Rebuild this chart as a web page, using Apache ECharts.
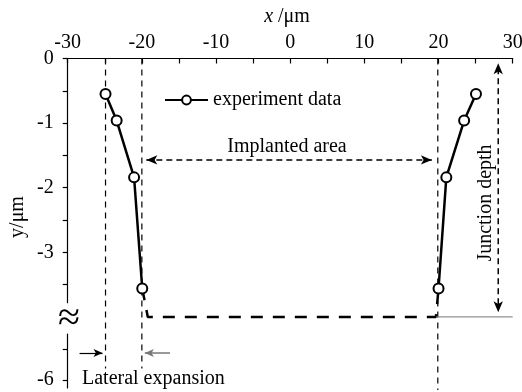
<!DOCTYPE html>
<html><head><meta charset="utf-8">
<script src="https://cdn.jsdelivr.net/npm/echarts@6/dist/echarts.min.js"></script>
<style>html,body{margin:0;padding:0;background:#fff}#c{width:522px;height:392px}</style>
</head><body><div id="c"></div>
<script>
// ---- data ----
const xTickLabels = [-30, -20, -10, 0, 10, 20, 30];
const yTicksUpper = [0, -0.5, -1, -1.5, -2, -2.5, -3, -3.5];
const yLabelsUpper = [0, -1, -2, -3];
const yTicksLower = [-6, -5.5];
const yLabelsLower = [-6];

const leftX = [-24.9, -23.4, -21.05, -19.95];
const leftY = [-0.55, -0.96, -1.84, -3.56];
const rightX = [20, 21.05, 23.45, 25.05];
const rightY = [-3.56, -1.84, -0.96, -0.55];

const bottomX = [-19.95, -19.2, 19.65, 20];
const bottomY = [-3.56, -4.0, -4.0, -3.56];
const baseX = [19.65, 30];
const baseY = [-4.0, -4.0];

const guideX = [-24.9, -20, 19.9];
const guideBottomY = [-4.8, -4.8, -5.13];

const implantX = [-19.4, 19.1];
const implantY = -1.57;
const junctionX = 28.05;
const junctionY = [-0.15, -3.85];
const lateralLeftX = [-28.4, -25.3];
const lateralRightX = [-16.2, -19.6];
const lateralY = -5.56;

const FONT = 'Liberation Serif';
const zip = (xs, ys) => xs.map((x, i) => [x, ys[i]]);

const chart = echarts.init(document.getElementById('c'));

const guideSeries = guideX.map((x, i) => ({
  type: 'line', xAxisIndex: 0, yAxisIndex: 0, silent: true, clip: false,
  symbol: 'none', data: [[x, 0], [x, guideBottomY[i]]],
  lineStyle: { color: '#000', width: 1.2, type: [6, 5] }, z: 1
}));

chart.setOption({
  animation: false,
  backgroundColor: '#fff',
  grid: [
    { left: 67.7, right: 9.3, top: 58.5, bottom: 89.3, containLabel: false, outerBoundsMode: 'none' },
    { left: 67.7, right: 9.3, top: 334, bottom: 4, containLabel: false, outerBoundsMode: 'none' }
  ],
  xAxis: [
    {
      gridIndex: 0, type: 'value', position: 'top', min: -30, max: 30, interval: 10,
      axisLine: { onZero: false, lineStyle: { color: '#000', width: 1.2 } },
      axisTick: { inside: true, length: 5, lineStyle: { color: '#000', width: 1.2 } },
      minorTick: { show: true, splitNumber: 2, length: 5, lineStyle: { color: '#000', width: 1.2 } },
      axisLabel: { fontSize: 20, fontFamily: FONT, color: '#000', margin: 6,
        customValues: xTickLabels },
      splitLine: { show: false }, minorSplitLine: { show: false }
    },
    { gridIndex: 1, type: 'value', min: -30, max: 30, show: false }
  ],
  yAxis: [
    {
      gridIndex: 0, type: 'value', min: -3.78, max: 0,
      axisLine: { show: true, onZero: false, lineStyle: { color: '#000', width: 1.2 } },
      axisTick: { show: true, length: 5, customValues: yTicksUpper, lineStyle: { color: '#000', width: 1.2 } },
      axisLabel: { fontSize: 20, fontFamily: FONT, color: '#000', margin: 14, customValues: yLabelsUpper },
      splitLine: { show: false }
    },
    {
      gridIndex: 1, type: 'value', min: -6.13, max: -5.25,
      axisLine: { show: true, onZero: false, lineStyle: { color: '#000', width: 1.2 } },
      axisTick: { show: true, length: 5, customValues: yTicksLower, lineStyle: { color: '#000', width: 1.2 } },
      axisLabel: { fontSize: 20, fontFamily: FONT, color: '#000', margin: 14, customValues: yLabelsLower },
      splitLine: { show: false }
    }
  ],
  legend: {
    data: ['experiment data'], left: 164, top: 90, padding: 0,
    itemWidth: 43, itemHeight: 11,
    textStyle: { fontSize: 20, fontFamily: FONT, color: '#000' }
  },
  series: [
    ...guideSeries,
    {
      type: 'line', name: 'bottom', xAxisIndex: 0, yAxisIndex: 0, clip: false, silent: true,
      symbol: 'none', data: zip(bottomX, bottomY),
      lineStyle: { color: '#000', width: 2.5, type: [12, 10] }, z: 2,
      markLine: {
        silent: true, symbol: ['arrow', 'arrow'], symbolSize: [7, 11],
        label: { show: false },
        lineStyle: { color: '#000', width: 1.5, type: [6, 4] },
        data: [
          [{ coord: [implantX[0], implantY] }, { coord: [implantX[1], implantY] }]
        ]
      }
    },
    {
      type: 'line', name: 'junction', xAxisIndex: 0, yAxisIndex: 0, clip: false, silent: true,
      data: [
        { value: [junctionX, junctionY[0]], symbol: 'arrow', symbolRotate: 0, symbolOffset: [0, -5] },
        { value: [junctionX, junctionY[1]], symbol: 'arrow', symbolRotate: 180, symbolOffset: [0, 5] }
      ],
      symbolSize: [7, 11], symbolKeepAspect: false,
      itemStyle: { color: '#000', borderWidth: 0 },
      lineStyle: { color: '#000', width: 1.5, type: [6, 4] }, z: 2
    },
    {
      type: 'line', name: 'base', xAxisIndex: 0, yAxisIndex: 0, clip: false, silent: true,
      symbol: 'none', data: zip(baseX, baseY),
      lineStyle: { color: '#777', width: 1 }, z: 2
    },
    {
      type: 'line', name: 'experiment data', xAxisIndex: 0, yAxisIndex: 0, clip: false,
      data: zip(leftX, leftY), symbol: 'emptyCircle', symbolSize: 10,
      lineStyle: { color: '#000', width: 2.5 },
      itemStyle: { color: '#000', borderColor: '#000', borderWidth: 1 }, z: 3
    },
    {
      type: 'line', name: 'experiment data', xAxisIndex: 0, yAxisIndex: 0, clip: false,
      data: zip(rightX, rightY), symbol: 'emptyCircle', symbolSize: 10,
      lineStyle: { color: '#000', width: 2.5 },
      itemStyle: { color: '#000', borderColor: '#000', borderWidth: 1 }, z: 3
    },
    {
      type: 'line', name: 'lateral', xAxisIndex: 1, yAxisIndex: 1, clip: false, silent: true,
      symbol: 'none', data: [],
      markLine: {
        silent: true, symbol: ['none', 'arrow'], symbolSize: [6, 9],
        label: { show: false },
        data: [
          [{ coord: [lateralLeftX[0], lateralY], lineStyle: { color: '#000', width: 1.2, type: 'solid' } },
           { coord: [lateralLeftX[1], lateralY] }],
          [{ coord: [lateralRightX[0], lateralY], lineStyle: { color: '#777', width: 1.5, type: 'solid' } },
           { coord: [lateralRightX[1], lateralY] }]
        ]
      }
    }
  ],
  graphic: [
    { type: 'text', x: 287, y: 17, style: { text: '{i|x} /μm', textAlign: 'center', textVerticalAlign: 'middle',
        font: '20px "Liberation Serif"', fill: '#000',
        rich: { i: { fontStyle: 'italic', fontSize: 20, fontFamily: FONT } } } },
    { type: 'text', x: 18, y: 217, rotation: Math.PI / 2, style: { text: 'y/μm', textAlign: 'center', textVerticalAlign: 'middle',
        font: '20px "Liberation Serif"', fill: '#000' } },
    { type: 'text', x: 287, y: 147, style: { text: 'Implanted area', textAlign: 'center', textVerticalAlign: 'middle',
        font: '20px "Liberation Serif"', fill: '#000' } },
    { type: 'text', x: 486, y: 203, rotation: Math.PI / 2, style: { text: 'Junction depth', textAlign: 'center', textVerticalAlign: 'middle',
        font: '20px "Liberation Serif"', fill: '#000' } },
    { type: 'text', x: 82, y: 379, style: { text: 'Lateral expansion', textAlign: 'left', textVerticalAlign: 'middle',
        font: '20px "Liberation Serif"', fill: '#000' } },
    { type: 'text', x: 69, y: 319, style: { text: '≈', textAlign: 'center', textVerticalAlign: 'middle',
        font: '40px "Liberation Serif"', fill: '#000' } }
  ]
});
</script></body></html>
